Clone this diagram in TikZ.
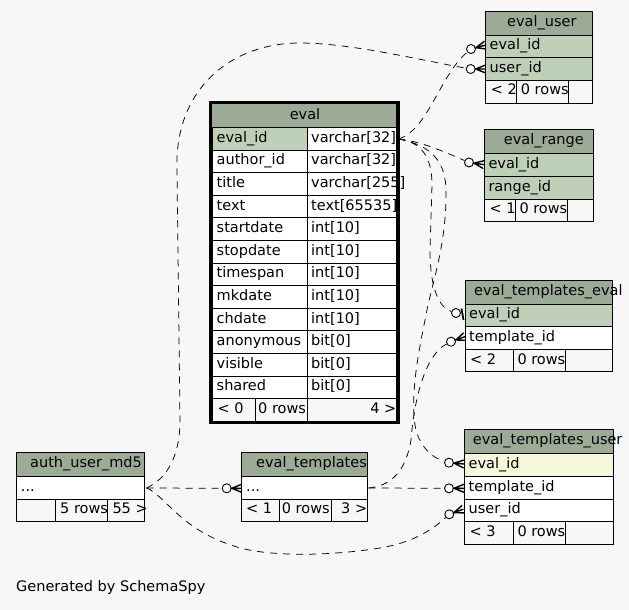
\documentclass[tikz,border=0pt]{standalone}
\usepackage{fontspec}
\setmainfont{DejaVu Sans}
\definecolor{hdr}{HTML}{9BAB96}
\definecolor{pk}{HTML}{BED1B8}
\definecolor{idx}{HTML}{F4F7DA}
\definecolor{bgc}{HTML}{F7F7F7}
\newcommand\crowend[4]{%
  \node[crowc] (#1) at (#2,#3) {};
  \begin{scope}[shift={(#2,#3)},rotate=#4]
    \draw[crowl] (15,-4) -- (5,0) -- (15,4) (5,0) -- (15,0);
  \end{scope}}
\begin{document}
\begin{tikzpicture}[x=1pt,y=-1pt,
  txt/.style={anchor=base west,inner sep=0pt,font=\fontsize{14.5}{17}\selectfont},
  txtc/.style={txt,anchor=base},
  txte/.style={txt,anchor=base east},
  cell/.style={draw=black,line width=0.9pt},
  conn/.style={draw=black,line width=0.75pt,dash pattern=on 7pt off 6pt},
  crowc/.style={circle,draw=black,fill=white,line width=0.9pt,minimum size=9pt,inner sep=0pt},
  crowl/.style={line width=1.4pt}]
\useasboundingbox (0,0) rectangle (629,610);
\fill[bgc] (0,0) rectangle (629,610);

% parent ends
\coordinate (evalR) at (398.5,139);
\coordinate (authR) at (146.5,488);
\coordinate (etR) at (368.5,488);

% child ends
\crowend{ca}{471}{49}{15}
\crowend{cb}{470.7}{69}{0}
\crowend{cc}{469}{162.5}{-8}
\node[crowc] (cd) at (456,313) {};
\draw[crowl,line width=1.8pt] (461.5,308.5) -- (463.5,320);
\crowend{ce}{451}{341.7}{20}
\crowend{cf}{449}{462.7}{-5}
\crowend{cg}{449}{488.3}{0}
\crowend{ch}{449.3}{514.3}{20}
\crowend{ci}{226.7}{488.3}{0}

% connectors
\draw[conn] (evalR) .. controls (428,130) and (440,75) .. (ca);
\draw[conn] (authR) .. controls (168,478) and (180,455) .. (180,420) -- (177,170)
  .. controls (174,90) and (230,43) .. (300,43) .. controls (350,43) and (420,60) .. (cb);
\draw[conn] (evalR) .. controls (420,141) and (445,152) .. (cc);
\draw[conn] (evalR) .. controls (420,142) and (432,155) .. (432,185) -- (430,250)
  .. controls (430,290) and (440,308) .. (cd);
\draw[conn] (evalR) .. controls (430,145) and (447,160) .. (446,195)
  .. controls (446,240) and (435,275) .. (428,305)
  .. controls (420,345) and (410,390) .. (415,425)
  .. controls (418,445) and (432,458) .. (cf);
\draw[conn] (etR) .. controls (392,486) and (406,470) .. (411,440)
  .. controls (414,400) and (425,355) .. (ce);
\draw[conn] (etR) -- (cg);
\draw[conn] (authR) .. controls (165,495) and (180,530) .. (237,547)
  .. controls (270,557) and (330,556) .. (380,548)
  .. controls (410,543) and (430,532) .. (ch);
\draw[conn] (authR) -- (ci);

% ---------------- eval
\draw[cell,fill=hdr] (211,103) rectangle (397,127.5);
\node[txtc] (ev-h) at (305,119.5) {eval};
\foreach \i in {0,...,11} {
  \pgfmathsetmacro\ya{127.5+22.6*\i}
  \pgfmathsetmacro\yb{\ya+22.6}
  \draw[cell,fill=white] (212,\ya) rectangle (307,\yb);
  \draw[cell,fill=white] (307,\ya) rectangle (396.5,\yb);
}
\draw[cell,fill=pk] (212,127.5) rectangle (307,150.1);
\foreach \n/\t [count=\i from 0] in {eval\_id/varchar[32], author\_id/varchar[32], title/varchar[255], text/text[65535], startdate/int[10], stopdate/int[10], timespan/int[10], mkdate/int[10], chdate/int[10], anonymous/bit[0], visible/bit[0], shared/bit[0]} {
  \pgfmathsetmacro\yt{127.5+22.6*\i+11.3+3.5}
  \node[txt] (ev-n-\i) at (216.5,\yt) {\n};
  \node[txt] (ev-t-\i) at (311,\yt) {\t};
}
\draw[cell] (212,398.7) rectangle (255,421.3);
\draw[cell] (255,398.7) rectangle (307,421.3);
\draw[cell] (307,398.7) rectangle (396.5,421.3);
\node[txt] (ev-f1) at (217.5,413.5) {< 0};
\node[txt] (ev-f2) at (258,413.5) {0 rows};
\node[txte] (ev-f3) at (396.5,413.5) {4 >};
\draw[line width=3.5pt] (210.7,102.5) rectangle (397.8,422.5);

% ---------------- eval_user
\draw[cell,fill=hdr] (485.7,11) rectangle (592,35.7);
\draw[cell,fill=pk] (485.7,35.7) rectangle (592,57.3);
\draw[cell,fill=pk] (485.7,57.3) rectangle (592,80);
\draw[cell] (485.7,80) rectangle (516,103);
\draw[cell] (516,80) rectangle (568,103);
\draw[cell] (568,80) rectangle (592,103);
\node[txt] (eu-h) at (507,26.8) {eval\_user};
\node[txt] (eu-1) at (489.5,50) {eval\_id};
\node[txt] (eu-2) at (489.5,72.2) {user\_id};
\node[txt] (eu-f1) at (490.7,95) {< 2};
\node[txt] (eu-f2) at (520.7,95) {0 rows};

% ---------------- eval_range
\draw[cell,fill=hdr] (484.3,129.3) rectangle (593,153.3);
\draw[cell,fill=pk] (484.3,153.3) rectangle (593,176);
\draw[cell,fill=pk] (484.3,176) rectangle (593,199.3);
\draw[cell] (484.3,199.3) rectangle (515.3,221);
\draw[cell] (515.3,199.3) rectangle (567.3,221);
\draw[cell] (567.3,199.3) rectangle (593,221);
\node[txt] (er-h) at (503.7,144.8) {eval\_range};
\node[txt] (er-1) at (488.3,168.2) {eval\_id};
\node[txt] (er-2) at (488.3,191.2) {range\_id};
\node[txt] (er-f1) at (489.3,213.7) {< 1};
\node[txt] (er-f2) at (519.3,213.7) {0 rows};

% ---------------- eval_templates_eval
\draw[cell,fill=hdr] (465,280) rectangle (612.3,304);
\draw[cell,fill=pk] (465,304) rectangle (612.3,326.7);
\draw[cell,fill=white] (465,326.7) rectangle (612.3,349.3);
\draw[cell] (465,349.3) rectangle (513.7,371.7);
\draw[cell] (513.7,349.3) rectangle (565.7,371.7);
\draw[cell] (565.7,349.3) rectangle (612.3,371.7);
\node[txt] (ete-h) at (474,295.5) {eval\_templates\_eval};
\node[txt] (ete-1) at (469,318.8) {eval\_id};
\node[txt] (ete-2) at (469,341.5) {template\_id};
\node[txt] (ete-f1) at (470,364) {< 2};
\node[txt] (ete-f2) at (517.3,364) {0 rows};

% ---------------- eval_templates_user
\draw[cell,fill=hdr] (464.3,429.3) rectangle (613.3,453.3);
\draw[cell,fill=idx] (464.3,453.3) rectangle (613.3,476);
\draw[cell,fill=white] (464.3,476) rectangle (613.3,499.3);
\draw[cell,fill=white] (464.3,499.3) rectangle (613.3,521);
\draw[cell] (464.3,521) rectangle (513.7,544);
\draw[cell] (513.7,521) rectangle (565.7,544);
\draw[cell] (565.7,521) rectangle (613.3,544);
\node[txt] (etu-h) at (472.7,444.8) {eval\_templates\_user};
\node[txt] (etu-1) at (468.5,468.2) {eval\_id};
\node[txt] (etu-2) at (468.5,491.2) {template\_id};
\node[txt] (etu-3) at (468.5,513.7) {user\_id};
\node[txt] (etu-f1) at (469.3,536) {< 3};
\node[txt] (etu-f2) at (517.3,536) {0 rows};

% ---------------- auth_user_md5
\draw[cell,fill=hdr] (16,452.3) rectangle (144.3,476);
\draw[cell,fill=white] (16,476) rectangle (144.3,499.3);
\draw[cell] (16,499.3) rectangle (55.7,521);
\draw[cell] (55.7,499.3) rectangle (107.3,521);
\draw[cell] (107.3,499.3) rectangle (144.3,521);
\node[txt] (au-h) at (30,467.7) {auth\_user\_md5};
\node[txt] (au-1) at (20.7,491.2) {...};
\node[txt] (au-f2) at (60,513.7) {5 rows};
\node[txt] (au-f3) at (112.3,513.7) {55 >};

% ---------------- eval_templates
\draw[cell,fill=hdr] (241.7,452.7) rectangle (367.3,476);
\draw[cell,fill=white] (241.7,476) rectangle (367.3,499.3);
\draw[cell] (241.7,499.3) rectangle (279.3,521);
\draw[cell] (279.3,499.3) rectangle (331.3,521);
\draw[cell] (331.3,499.3) rectangle (367.3,521);
\node[txt] (et-h) at (256,467.8) {eval\_templates};
\node[txt] (et-1) at (246,491.2) {...};
\node[txt] (et-f1) at (246,513.7) {< 1};
\node[txt] (et-f2) at (281.7,513.7) {0 rows};
\node[txt] (et-f3) at (341,513.7) {3 >};

\node[txt] (gen) at (16,591.7) {Generated by SchemaSpy};
\end{tikzpicture}
\end{document}
